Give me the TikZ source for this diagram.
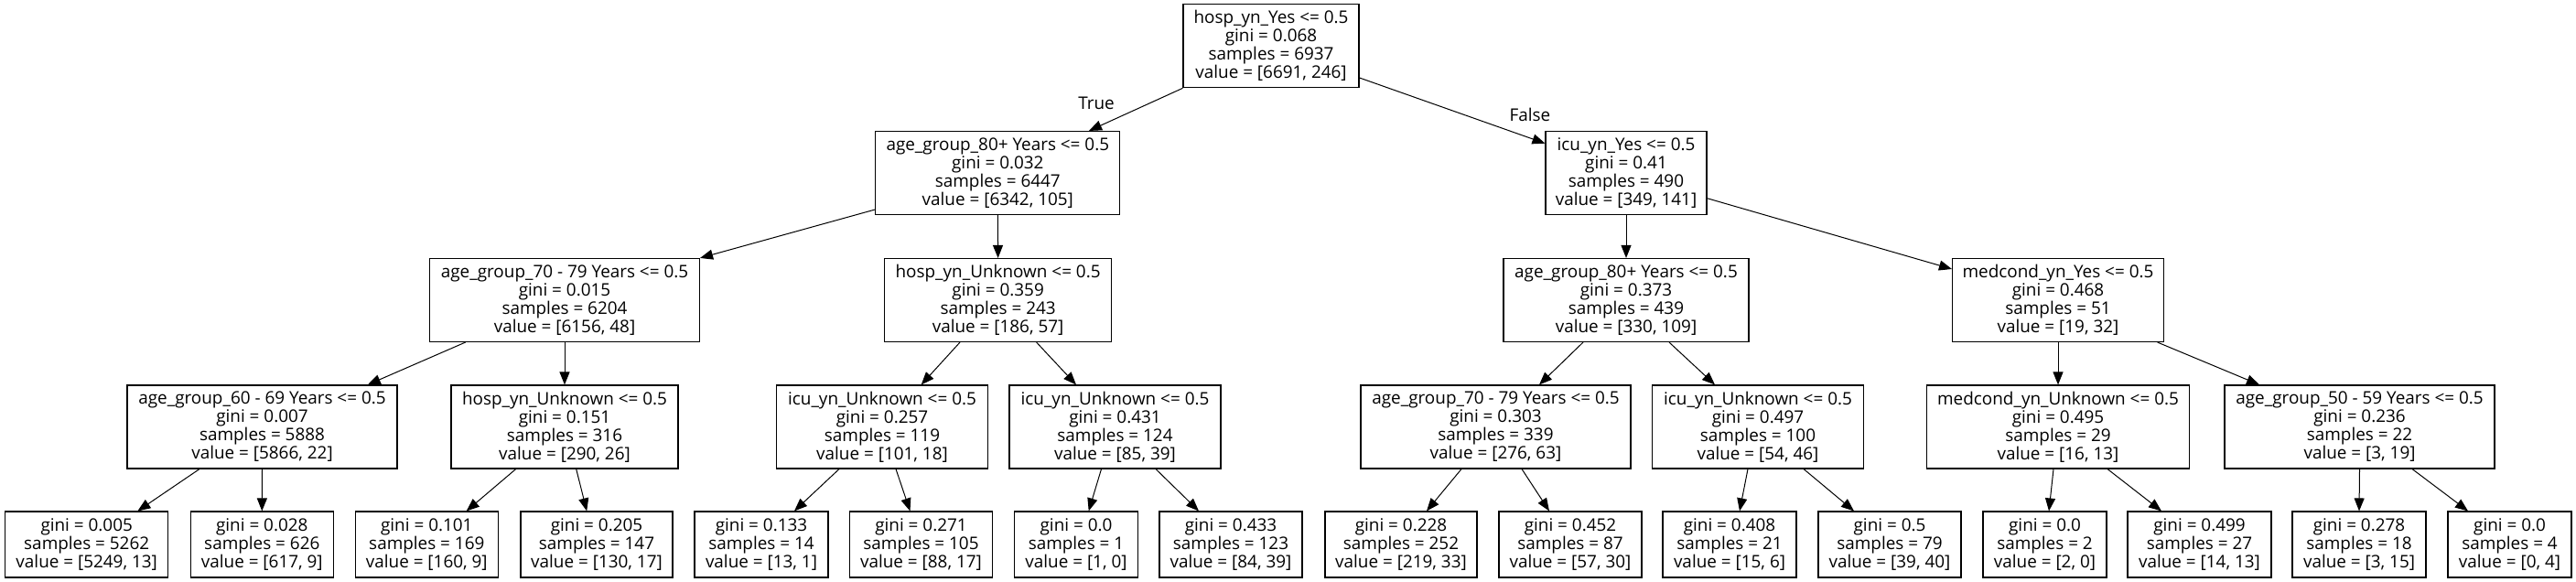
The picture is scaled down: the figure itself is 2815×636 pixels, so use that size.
\documentclass[tikz,border=0pt]{standalone}
\usepackage{fontspec}
\setmainfont{Open Sans}
\usetikzlibrary{arrows.meta}
\tikzset{
  tbox/.style={draw=black, line width=1.1pt, inner sep=0pt, align=center,
    font=\fontsize{18.9}{20}\selectfont, minimum height=91pt},
  leaf/.style={tbox, minimum height=72pt},
  edge/.style={line width=1pt, -{Triangle[length=14pt,width=11pt]}},
  elabel/.style={inner sep=0pt, font=\fontsize{18.9}{20}\selectfont}
}
\begin{document}
\begin{tikzpicture}[x=1pt,y=-1pt]
\useasboundingbox (0,0) rectangle (2815,636);
% row 0
\node[tbox, minimum width=192pt] (root) at (1389,50.3) {hosp\_yn\_Yes <= 0.5\\gini = 0.068\\samples = 6937\\value = [6691, 246]};
% row 1
\node[tbox, minimum width=267pt] (A) at (1090.3,189) {age\_group\_80+ Years <= 0.5\\gini = 0.032\\samples = 6447\\value = [6342, 105]};
\node[tbox, minimum width=176pt] (B) at (1777,189) {icu\_yn\_Yes <= 0.5\\gini = 0.41\\samples = 490\\value = [349, 141]};
% row 2
\node[tbox, minimum width=295pt] (C) at (617,328) {age\_group\_70 - 79 Years <= 0.5\\gini = 0.015\\samples = 6204\\value = [6156, 48]};
\node[tbox, minimum width=248pt] (D) at (1090.6,328) {hosp\_yn\_Unknown <= 0.5\\gini = 0.359\\samples = 243\\value = [186, 57]};
\node[tbox, minimum width=268pt] (E) at (1777,328) {age\_group\_80+ Years <= 0.5\\gini = 0.373\\samples = 439\\value = [330, 109]};
\node[tbox, minimum width=231pt] (F) at (2249,328) {medcond\_yn\_Yes <= 0.5\\gini = 0.468\\samples = 51\\value = [19, 32]};
% row 3
\node[tbox, minimum width=295pt] (G) at (286.5,466.5) {age\_group\_60 - 69 Years <= 0.5\\gini = 0.007\\samples = 5888\\value = [5866, 22]};
\node[tbox, minimum width=248pt] (H) at (617,466.5) {hosp\_yn\_Unknown <= 0.5\\gini = 0.151\\samples = 316\\value = [290, 26]};
\node[tbox, minimum width=231pt] (I) at (964,466.5) {icu\_yn\_Unknown <= 0.5\\gini = 0.257\\samples = 119\\value = [101, 18]};
\node[tbox, minimum width=231pt] (J) at (1218.5,466.5) {icu\_yn\_Unknown <= 0.5\\gini = 0.431\\samples = 124\\value = [85, 39]};
\node[tbox, minimum width=295pt] (K) at (1634.5,466.5) {age\_group\_70 - 79 Years <= 0.5\\gini = 0.303\\samples = 339\\value = [276, 63]};
\node[tbox, minimum width=231pt] (L) at (1921,466.5) {icu\_yn\_Unknown <= 0.5\\gini = 0.497\\samples = 100\\value = [54, 46]};
\node[tbox, minimum width=287pt] (M) at (2249,466.5) {medcond\_yn\_Unknown <= 0.5\\gini = 0.495\\samples = 29\\value = [16, 13]};
\node[tbox, minimum width=295pt] (N) at (2578.5,466.5) {age\_group\_50 - 59 Years <= 0.5\\gini = 0.236\\samples = 22\\value = [3, 19]};
% row 4 leaves
\node[leaf, minimum width=178pt] (L1) at (94.7,595) {gini = 0.005\\samples = 5262\\value = [5249, 13]};
\node[leaf, minimum width=156pt] (L2) at (286.3,595) {gini = 0.028\\samples = 626\\value = [617, 9]};
\node[leaf, minimum width=156pt] (L3) at (466.3,595) {gini = 0.101\\samples = 169\\value = [160, 9]};
\node[leaf, minimum width=166pt] (L4) at (652,595) {gini = 0.205\\samples = 147\\value = [130, 17]};
\node[leaf, minimum width=146pt] (L5) at (832,595) {gini = 0.133\\samples = 14\\value = [13, 1]};
\node[leaf, minimum width=156pt] (L6) at (1006.5,595) {gini = 0.271\\samples = 105\\value = [88, 17]};
\node[leaf, minimum width=135pt] (L7) at (1176,595) {gini = 0.0\\samples = 1\\value = [1, 0]};
\node[leaf, minimum width=156pt] (L8) at (1345,595) {gini = 0.433\\samples = 123\\value = [84, 39]};
\node[leaf, minimum width=166pt] (L9) at (1531,595) {gini = 0.228\\samples = 252\\value = [219, 33]};
\node[leaf, minimum width=156pt] (L10) at (1716,595) {gini = 0.452\\samples = 87\\value = [57, 30]};
\node[leaf, minimum width=146pt] (L11) at (1890,595) {gini = 0.408\\samples = 21\\value = [15, 6]};
\node[leaf, minimum width=156pt] (L12) at (2065,595) {gini = 0.5\\samples = 79\\value = [39, 40]};
\node[leaf, minimum width=135pt] (L13) at (2234.5,595) {gini = 0.0\\samples = 2\\value = [2, 0]};
\node[leaf, minimum width=157pt] (L14) at (2403.5,595) {gini = 0.499\\samples = 27\\value = [14, 13]};
\node[leaf, minimum width=146pt] (L15) at (2578,595) {gini = 0.278\\samples = 18\\value = [3, 15]};
\node[leaf, minimum width=135pt] (L16) at (2742.5,595) {gini = 0.0\\samples = 4\\value = [0, 4]};
% edge labels
\node[elabel] (tl) at (1198,113) {True};
\node[elabel] (fl) at (1672,125) {False};
% edges
\draw[edge] (root.south west) -- ([xshift=99.7pt]A.north);
\draw[edge] ([yshift=-34.7pt]root.east) -- ([yshift=32.3pt]B.west);
\draw[edge] ([yshift=-40pt]A.west) -- (C.north east);
\draw[edge] (A.south) -- (D.north);
\draw[edge] (B.south) -- (E.north);
\draw[edge] ([yshift=-27.7pt]B.east) -- ([yshift=34pt]F.west);
\draw[edge] ([xshift=-108.4pt]C.south) -- ([xshift=115.3pt]G.north);
\draw[edge] (C.south) -- (H.north);
\draw[edge] ([xshift=-41.6pt]D.south) -- ([xshift=42.7pt]I.north);
\draw[edge] ([xshift=42pt]D.south) -- ([xshift=-42.5pt]J.north);
\draw[edge] ([xshift=-47pt]E.south) -- ([xshift=47.5pt]K.north);
\draw[edge] ([xshift=47pt]E.south) -- ([xshift=-47pt]L.north);
\draw[edge] (F.south) -- (M.north);
\draw[edge] ([xshift=108.6pt]F.south) -- ([xshift=-109.5pt]N.north);
\draw[edge] ([xshift=-68.5pt]G.south) -- ([xshift=55.7pt]L1.north);
\draw[edge] (G.south) -- (L2.north);
\draw[edge] ([xshift=-53.3pt]H.south) -- ([xshift=43.4pt]L3.north);
\draw[edge] ([xshift=12.7pt]H.south) -- ([xshift=-10.8pt]L4.north);
\draw[edge] ([xshift=-47pt]I.south) -- ([xshift=36pt]L5.north);
\draw[edge] ([xshift=15pt]I.south) -- ([xshift=-12pt]L6.north);
\draw[edge] ([xshift=-15pt]J.south) -- ([xshift=13.7pt]L7.north);
\draw[edge] ([xshift=44.5pt]J.south) -- ([xshift=-35pt]L8.north);
\draw[edge] ([xshift=-37.5pt]K.south) -- ([xshift=28pt]L9.north);
\draw[edge] ([xshift=28.5pt]K.south) -- ([xshift=-23pt]L10.north);
\draw[edge] ([xshift=-11pt]L.south) -- ([xshift=11pt]L11.north);
\draw[edge] ([xshift=50pt]L.south) -- ([xshift=-39pt]L12.north);
\draw[edge] ([xshift=-5pt]M.south) -- ([xshift=4.5pt]L13.north);
\draw[edge] ([xshift=54pt]M.south) -- ([xshift=-41.5pt]L14.north);
\draw[edge] (N.south) -- (L15.north);
\draw[edge] ([xshift=57.5pt]N.south) -- ([xshift=-45.5pt]L16.north);
\end{tikzpicture}
\end{document}
